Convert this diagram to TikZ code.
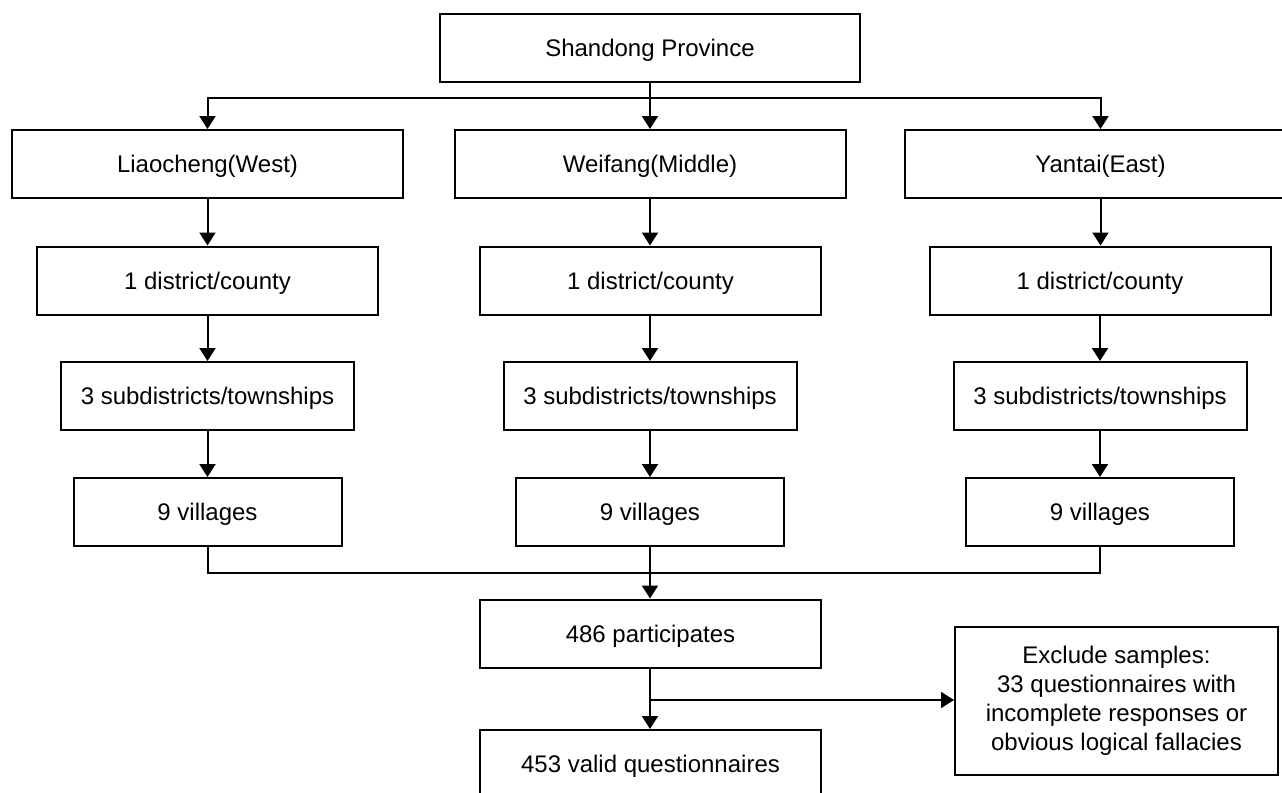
\documentclass[tikz,border=0pt]{standalone}
\usepackage{fontspec}
\setmainfont{Liberation Sans}
\usetikzlibrary{arrows.meta}
\begin{document}
\begin{tikzpicture}[x=0.5pt,y=-0.5pt,
  box/.style={draw, line width=1pt, minimum height=34pt, inner sep=0pt, font=\fontsize{12}{14.5}\selectfont, align=center},
  one/.style={text height=9pt, text depth=0.5pt},
  arr/.style={line width=1pt, -{Triangle[width=8pt,length=6.5pt]}},
  ln/.style={line width=1pt}]
\useasboundingbox (0,0) rectangle (1282,793);
\fill[white] (0,0) rectangle (1282,793);
\node[box, one, minimum width=210pt] (sd) at (650,48) {Shandong Province};
\node[box, one, minimum width=195.5pt] (lc) at (207.5,164) {Liaocheng(West)};
\node[box, one, minimum width=195.5pt] (wf) at (650,164) {Weifang(Middle)};
\node[box, one, minimum width=195.5pt] (yt) at (1100.5,164) {Yantai(East)};
\node[box, one, minimum width=170.5pt] (lc1) at (207.5,280.5) {1 district/county};
\node[box, one, minimum width=170.5pt] (wf1) at (650.5,280.5) {1 district/county};
\node[box, one, minimum width=170.5pt] (yt1) at (1100,280.5) {1 district/county};
\node[box, one, minimum width=146.5pt] (lc2) at (207.5,396) {3 subdistricts/townships};
\node[box, one, minimum width=146.5pt] (wf2) at (650,396) {3 subdistricts/townships};
\node[box, one, minimum width=146.5pt] (yt2) at (1100,396) {3 subdistricts/townships};
\node[box, one, minimum width=134pt] (lc3) at (207.5,512) {9 villages};
\node[box, one, minimum width=134pt] (wf3) at (650,512) {9 villages};
\node[box, one, minimum width=134pt] (yt3) at (1100,512) {9 villages};
\node[box, one, minimum width=170.5pt] (p) at (650.5,633.5) {486 participates};
\node[box, one, minimum width=170.5pt] (v) at (650.5,764) {453 valid questionnaires};
\node[box, minimum width=161.5pt, minimum height=74pt] (ex) at (1116.5,701) {Exclude samples:\\33 questionnaires with\\incomplete responses or\\obvious logical fallacies};
% top bus
\coordinate (bus) at (650,98);
\draw[arr] (sd.south) -- (sd.south |- wf.north);
\draw[arr] (bus) -| (lc.north);
\draw[arr] (bus) -| (yt.north);
% columns
\draw[arr] (lc.south) -- (lc.south |- lc1.north);
\draw[arr] (wf.south) -- (wf.south |- wf1.north);
\draw[arr] (yt.south) -- (yt.south |- yt1.north);
\draw[arr] (lc1.south) -- (lc1.south |- lc2.north);
\draw[arr] (wf2.north |- wf1.south) -- (wf2.north);
\draw[arr] (yt1.south) -- (yt1.south |- yt2.north);
\draw[arr] (lc2.south) -- (lc2.south |- lc3.north);
\draw[arr] (wf2.south) -- (wf2.south |- wf3.north);
\draw[arr] (yt2.south) -- (yt2.south |- yt3.north);
% merge
\coordinate (mrg) at (650,573);
\draw[ln] (lc3.south) |- (mrg);
\draw[ln] (yt3.south) |- (mrg);
\draw[arr] (wf3.south) -- (wf3.south |- p.north);
% bottom
\coordinate (split) at (650,700);
\draw[arr] (split |- p.south) -- (split |- v.north);
\draw[arr] (split) -- (split -| ex.west);
\end{tikzpicture}
\end{document}
